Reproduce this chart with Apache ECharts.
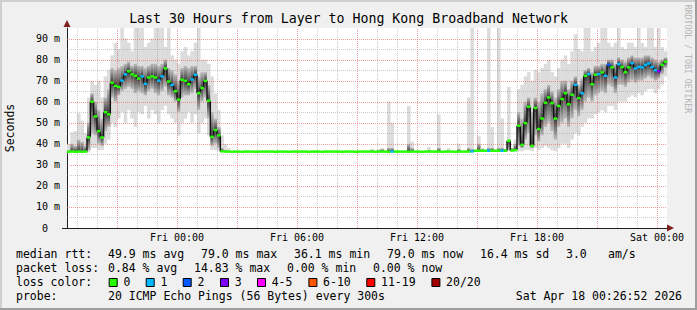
<!DOCTYPE html>
<html><head><meta charset="utf-8">
<script src="https://cdn.jsdelivr.net/npm/echarts@6/dist/echarts.min.js"></script>
<style>html,body{margin:0;padding:0;background:#f0f0f0}#c{width:697px;height:310px}</style>
</head><body><div id="c"></div>
<script>
// ---- time steps: 10-minute steps, index 0 = Thu 18:30 ----
const median = [
  36.2,36.3,36.2,36.3,36.2,36.3,43,60,53,46,          // 0-9
  43,55,54,69,67.5,67,70,73,74.4,73,                  // 10-19
  72.3,71,72,68.5,71.5,72,71.5,70,72,75.8,            // 20-29
  69.6,68,65,61,70.4,69.9,68.3,70.5,72.8,64,          // 30-39
  66.5,69.9,60.5,43.3,46.5,44,36.4,36.3,36.3,36.2,    // 40-49
  36.3,36.3,36.2,36.3,36.3,36.3,36.2,36.3,36.3,36.3,  // 50-59
  36.3,36.3,36.2,36.3,36.3,36.3,36.2,36.3,36.3,36.3,  // 60-69
  36.3,36.3,36.2,36.3,36.3,36.3,36.2,36.3,36.3,36.3,  // 70-79
  36.3,36.3,36.2,36.3,36.3,36.3,36.2,36.3,36.3,36.3,  // 80-89
  36.3,36.3,36.2,36.3,36.3,36.3,36.2,36.3,36.3,36.3,  // 90-99
  36.3,36.3,36.2,36.3,36.3,36.3,36.2,36.3,36.3,36.3,  // 100-109
  36.3,36.3,36.2,36.3,36.3,36.3,36.2,36.3,36.3,36.3,  // 110-119
  36.3,36.4,36.7,36.7,36.7,36.7,36.7,36.7,36.7,36.7,  // 120-129
  36.7,36.7,41.4,36.8,37,48.6,39.5,49.8,57.6,39,      // 130-139
  57,47,52,59.5,62,59.3,52,58,61.2,64,                // 140-149
  58.8,63.3,68,61.7,64,72.3,73.1,68.3,72.8,73.1,      // 150-159
  73.9,72.3,77.5,76.3,71.5,77.8,76.5,74,76.3,78.3,    // 160-169
  75.8,76.5,76.3,77.5,78.2,76.5,75,74.4,77.5,79       // 170-179
];
const lossCount = [
  0,0,0,0,0,0,0,0,0,0,
  0,0,0,0,0,0,1,1,0,0,
  0,0,1,1,0,0,0,1,1,0,
  0,1,0,0,0,0,0,1,1,0,
  0,0,0,0,0,0,0,0,0,0,
  0,0,0,0,0,0,0,0,0,0,
  0,0,0,0,0,0,0,0,0,0,
  0,0,0,0,0,0,0,0,0,0,
  0,0,0,0,0,0,0,0,0,0,
  0,0,0,0,0,0,0,1,0,0,
  0,0,0,0,0,0,0,0,0,0,
  0,0,0,0,0,0,0,0,0,0,
  0,1,0,0,0,0,1,0,0,0,
  1,0,0,0,0,0,0,0,0,0,
  0,0,0,0,0,0,0,0,0,0,
  0,0,1,0,1,0,1,0,0,1,
  0,1,2,0,1,1,0,0,0,1,
  1,1,1,1,1,1,1,3,0,0
];
const smokeLo = [
  35.8,35.8,35.8,35.8,35.8,35.8,36,38,38,37,
  37,40,42,50,48,52,55,50,56,52,
  48,55,54,58,52,56,54,50,56,58,
  54,52,50,44,50,52,55,50,54,45,
  50,52,44,37,37,36.5,36,36,36,36,
  36,36,36,36,36,36,36,36,36,36,
  36,36,36,36,36,36,36,36,36,36,
  36,36,36,36,36,36,36,36,36,36,
  36,36,36,36,36,36,36,36,36,36,
  36,36,36,36,36,36,36,36,36,36,
  36,36,36,36,36,36,36,36,36,36,
  36,36,36,36,36,36,36,36,36,36,
  36,36,36.2,36.2,36.2,36.2,36.2,36.2,36.2,36.2,
  36.2,36.2,36.4,36.3,36.3,36.5,36.5,37,37,36.5,
  38,37,38,39,38,37,36.5,38,40,40,
  38,42,45,44,48,50,52,52,54,55,
  56,55,58,58,56,60,60,60,62,63,
  62,64,63,65,66,66,64,66,68,72
];
const smokeQ1 = [
  36,36,36,36,36,36,37,45,44,40,
  39,46,48,62,60,63,65,66,67,66,
  64,65,64,63,65,66,64,63,65,67,
  63,62,60,55,62,63,63,64,66,56,
  60,62,52,39,40,38,36.2,36.2,36.1,36.1,
  36.2,36.2,36.2,36.2,36.2,36.2,36.2,36.2,36.2,36.2,
  36.2,36.2,36.2,36.2,36.2,36.2,36.2,36.2,36.2,36.2,
  36.2,36.2,36.2,36.2,36.2,36.2,36.2,36.2,36.2,36.2,
  36.2,36.2,36.2,36.2,36.2,36.2,36.2,36.2,36.2,36.2,
  36.2,36.2,36.2,36.2,36.2,36.2,36.2,36.2,36.2,36.2,
  36.2,36.2,36.2,36.2,36.2,36.2,36.2,36.2,36.2,36.2,
  36.2,36.2,36.2,36.2,36.2,36.2,36.2,36.2,36.2,36.2,
  36.2,36.2,36.5,36.5,36.5,36.5,36.5,36.5,36.5,36.5,
  36.5,36.5,37,36.6,36.7,39,38,42,45,38,
  44,41,44,48,50,46,42,48,50,52,
  48,52,56,53,56,60,62,60,63,64,
  65,64,68,67,64,68,68,67,69,70,
  69,70,70,71,72,71,70,71,73,76
];
const smokeQ3 = [
  37,40,39,42,41,39,50,64,60,56,
  52,62,66,76,75,76,77,78,79,77,
  78,77,77,76,77,78,78,77,78,80,
  76,75,73,70,76,77,76,77,77,72,
  74,74,68,55,52,48,38,37,36.8,36.5,
  36.4,36.4,36.4,36.4,36.4,36.4,36.4,36.4,36.4,36.4,
  36.4,36.4,36.4,36.4,36.4,36.4,36.4,36.4,36.4,36.4,
  36.4,36.4,36.4,36.4,36.4,36.4,36.4,36.4,36.4,36.4,
  36.4,36.4,36.4,36.4,36.4,36.4,36.4,36.4,36.4,36.4,
  36.4,37,36.4,37,37.5,36.4,38,38,36.4,36.4,
  36.4,36.4,40,38,36.4,36.4,36.4,36.4,37,36.4,
  36.4,38,36.4,36.4,36.8,36.4,36.4,37.5,36.4,36.4,
  38,37.5,37,40,37.5,37,38,38,37,38,
  38,37.5,42,38,40,55,52,60,62,55,
  62,60,64,66,68,65,62,66,70,70,
  66,70,72,68,71,75,76,74,77,77,
  78,78,80,80,78,81,80,79,81,82,
  81,81,81,82,82,81,80,79,80,81
];
const smokeHi = [
  40,45.5,46,54.5,51,45,62,70,68,70,
  62,72,75,82,88,85,95,90,88,84,
  95,95,95,86,88,90,95,95,95,86,
  95,82,80,78,84,86,82,84,88,95,
  80,80,78,72,64,56,44,40,38,36.6,
  36.6,36.6,36.6,36.6,36.6,36.6,36.6,36.6,36.6,36.6,
  36.6,36.6,36.6,36.6,36.6,36.6,36.6,36.6,36.6,36.6,
  36.6,36.6,36.6,36.6,36.6,36.6,36.6,36.6,36.6,36.6,
  36.6,36.6,36.6,36.6,36.6,36.6,36.6,36.6,36.6,36.6,
  36.6,37.5,36.6,37.5,38,36.6,60,50,36.6,36.6,
  36.6,36.6,58,41,36.6,36.6,36.6,36.6,38.5,36.6,
  36.6,54,36.6,36.6,38,36.6,36.6,40,36.6,36.6,
  62,95,37,43.8,38,37,95,48,37,95,
  52,37.5,67,38,42,66,68,72,74,70,
  75,74,76,78,80,74,72,76,80,82,
  78,84,92,85,84,95,95,84,86,88,
  95,95,88,86,88,95,86,85,88,88,
  86,95,88,86,95,95,86,95,86,84
];
// axis / grid tick values (x in 10-minute steps from Thu 18:30)
const tickPos = [33, 69, 105, 141, 177];
const tickLabels = ['Fri 00:00', 'Fri 06:00', 'Fri 12:00', 'Fri 18:00', 'Sat 00:00'];
const majorGridX = [15, 33, 51, 69, 87, 105, 123, 141, 159, 177];
const minorGridX = [3, 9, 21, 27, 39, 45, 57, 63, 75, 81, 93, 99, 111, 117, 129, 135, 147, 153, 165, 171];
const majorGridY = [10, 20, 30, 40, 50, 60, 70, 80, 90];
const minorGridY = [5, 15, 25, 35, 45, 55, 65, 75, 85];
// legend
const lossLabels = ['0', '1', '2', '3', '4-5', '6-10', '11-19', '20/20'];
const lossMax = [0, 1, 2, 3, 5, 10, 19, 20];
const lossColors = ['#26ff00', '#00b8ff', '#0059ff', '#7e00ff', '#ff00ff', '#ff5500', '#ff0000', '#a10000'];
const rttStats = ['49.9 ms avg', '79.0 ms max', '36.1 ms min', '79.0 ms now', '16.4 ms sd', '3.0', 'am/s'];
const lossStats = ['0.84 % avg', '14.83 % max', '0.00 % min', '0.00 % now'];
const probeText = '20 ICMP Echo Pings (56 Bytes) every 300s';
const dateText = 'Sat Apr 18 00:26:52 2026';
const titleText = 'Last 30 Hours from Layer to Hong Kong Broadband Network';

// ---- layout ----
const FONT = '"DejaVu Sans Mono", monospace';
const rttX = [108, 201, 294, 387, 480, 566, 608];
const lossX = [108, 194, 287, 373];
const boxX = [108.7, 145.7, 182.7, 220, 257, 308.4, 366.3, 431.4];
const rowY = [254.3, 268.3, 282.3, 296.3];

function lossColor(n) {
  for (let k = 0; k < lossMax.length; k++) if (n <= lossMax[k]) return lossColors[k];
  return lossColors[lossColors.length - 1];
}
const chart = echarts.init(document.getElementById('c'), null, {renderer: 'svg', width: 697, height: 310});

const stepData = median.map((v, i) => [i, v]);
const gridData = [].concat(
  majorGridX.map(v => [v, 0, 0]), minorGridX.map(v => [v, 0, 1]),
  majorGridY.map(v => [0, v, 2]), minorGridY.map(v => [0, v, 3]));

function grad(c0, c1) {
  return new echarts.graphic.LinearGradient(0, 0, 0, 1, [{offset: 0, color: c0}, {offset: 1, color: c1}]);
}

const txt = (x, y, s, extra) => ({type: 'text', x: x, y: y, silent: true,
  style: Object.assign({text: s, fontFamily: FONT, fontSize: 11.5, fill: '#000', align: 'left', verticalAlign: 'middle'}, extra || {})});

const graphics = [
  {type: 'rect', shape: {x: 0, y: 0, width: 697, height: 2}, style: {fill: '#cfcfcf'}, silent: true},
  {type: 'rect', shape: {x: 0, y: 0, width: 2, height: 310}, style: {fill: '#cfcfcf'}, silent: true},
  {type: 'rect', shape: {x: 695, y: 0, width: 2, height: 310}, style: {fill: '#9e9e9e'}, silent: true},
  {type: 'rect', shape: {x: 0, y: 308, width: 697, height: 2}, style: {fill: '#9e9e9e'}, silent: true},
  {type: 'polygon', shape: {points: [[63.5, 27], [70.5, 27], [67, 20]]}, style: {fill: '#7f1f1f'}, silent: true},
  {type: 'polygon', shape: {points: [[667, 224.5], [667, 231.5], [674, 228]]}, style: {fill: '#7f1f1f'}, silent: true},
  {type: 'line', shape: {x1: 62, y1: 228.5, x2: 67, y2: 228.5}, style: {stroke: '#1f1f1f', lineWidth: 1}, silent: true},
  txt(10, 128, 'Seconds', {align: 'center'}),
  txt(688, 59, 'RRDTOOL / TOBI OETIKER', {align: 'center', fontSize: 8.2, fill: '#b4b4b4'}),
  txt(16, rowY[0], 'median rtt:'),
  txt(16, rowY[1], 'packet loss:'),
  txt(16, rowY[2], 'loss color:'),
  txt(16, rowY[3], 'probe:'),
  txt(108, rowY[3], probeText),
  txt(682, rowY[3], dateText, {align: 'right'})
];
graphics[7].rotation = Math.PI / 2;
graphics[8].rotation = -Math.PI / 2;
rttStats.forEach((s, k) => graphics.push(txt(rttX[k], rowY[0], s)));
lossStats.forEach((s, k) => graphics.push(txt(lossX[k], rowY[1], s)));
lossLabels.forEach((s, k) => {
  graphics.push({type: 'rect', shape: {x: boxX[k] + 0.5, y: Math.round(rowY[2] - 4) + 0.5, width: 8, height: 8},
    style: {fill: lossColors[k], stroke: '#000', lineWidth: 1}, silent: true});
  graphics.push(txt(boxX[k] + 14.7, rowY[2], s));
});

const option = {
  animation: false,
  backgroundColor: '#f0f0f0',
  title: {text: titleText, left: 'center', top: 12, padding: 0,
    textStyle: {fontFamily: FONT, fontSize: 13.25, fontWeight: 'normal', color: '#000'}},
  grid: {left: 67, right: 30, top: 28, bottom: 82, show: true, backgroundColor: '#ffffff', borderWidth: 0},
  xAxis: {type: 'value', min: 0, max: 180,
    axisLine: {lineStyle: {color: '#1f1f1f', width: 1}},
    axisTick: {show: false}, splitLine: {show: false},
    axisLabel: {customValues: tickPos, formatter: v => tickLabels[tickPos.indexOf(v)] || '',
      fontFamily: FONT, fontSize: 10, color: '#000', margin: 4}},
  yAxis: {type: 'value', min: 0, max: 95, interval: 10,
    axisLine: {show: true, lineStyle: {color: '#1f1f1f', width: 1}},
    axisTick: {show: false}, splitLine: {show: false},
    axisLabel: {showMaxLabel: false, formatter: v => v === 0 ? '0\u00a0\u00a0' : v + ' m',
      fontFamily: FONT, fontSize: 10, color: '#000', margin: 7}},
  graphic: graphics,
  series: [
    { // smoke
      type: 'custom', z: 1, silent: true, data: stepData,
      renderItem: function (params, api) {
        const i = params.dataIndex;
        const xa = api.coord([i, 0])[0], xb = api.coord([i + 1, 0])[0];
        const w = xb - xa + 0.25;
        const Y = v => api.coord([i, v])[1];
        const m = median[i];
        const yLo = Y(smokeLo[i]), yHi = Y(smokeHi[i]);
        const yQ1 = Y(Math.min(smokeQ1[i], m)), yQ3 = Y(Math.max(smokeQ3[i], m)), yM = Y(m);
        const ch = [{type: 'rect', shape: {x: xa, y: yHi, width: w, height: yLo - yHi}, style: {fill: '#dcdcdc'}}];
        if (yM - yQ3 > 0.3) ch.push({type: 'rect', shape: {x: xa, y: yQ3, width: w, height: yM - yQ3}, style: {fill: grad('#bdbdbd', '#3a3a3a')}});
        if (yQ1 - yM > 0.3) ch.push({type: 'rect', shape: {x: xa, y: yM, width: w, height: yQ1 - yM}, style: {fill: grad('#3a3a3a', '#bdbdbd')}});
        return {type: 'group', children: ch};
      }
    },
    { // grid lines
      type: 'custom', z: 2, silent: true, data: gridData,
      renderItem: function (params, api) {
        const kind = api.value(2);
        const major = kind === 0 || kind === 2;
        const col = major ? 'rgba(222,80,80,0.55)' : 'rgba(143,143,143,0.45)';
        let x1, y1, x2, y2;
        if (kind < 2) {
          const x = Math.round(api.coord([api.value(0), 0])[0]) + 0.5;
          x1 = x2 = x; y1 = api.coord([0, 0])[1]; y2 = api.coord([0, 95])[1];
        } else {
          const y = Math.round(api.coord([0, api.value(1)])[1]) + 0.5;
          y1 = y2 = y; x1 = api.coord([0, 0])[0]; x2 = api.coord([180, 0])[0];
        }
        return {type: 'line', shape: {x1: x1, y1: y1, x2: x2, y2: y2},
          style: {stroke: col, lineWidth: 1, lineDash: [1, 1]}};
      }
    },
    { // median connectors
      type: 'custom', z: 3, silent: true, data: stepData,
      renderItem: function (params, api) {
        const i = params.dataIndex;
        if (i === 0) return null;
        const xa = api.coord([i, 0])[0];
        return {type: 'line', shape: {x1: xa, y1: api.coord([i, median[i - 1]])[1], x2: xa, y2: api.coord([i, median[i]])[1]},
          style: {stroke: '#111', lineWidth: 1.4}};
      }
    },
    { // median coloured by loss
      type: 'custom', z: 4, silent: true, data: stepData,
      renderItem: function (params, api) {
        const i = params.dataIndex;
        const xa = api.coord([i, 0])[0], xb = api.coord([i + 1, 0])[0];
        const yM = api.coord([i, median[i]])[1];
        return {type: 'rect', shape: {x: xa, y: yM - 1.25, width: xb - xa + 0.2, height: 2.5},
          style: {fill: lossColor(lossCount[i])}};
      }
    }
  ]
};
chart.setOption(option);
</script>
</body></html>
